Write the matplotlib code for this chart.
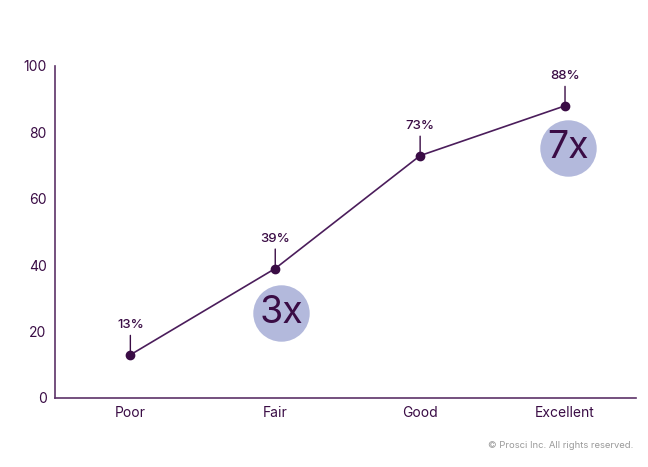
import matplotlib.pyplot as plt

categories = ["Poor", "Fair", "Good", "Excellent"]
values = [13, 39, 73, 88]
labels = ["13%", "39%", "73%", "88%"]
bubble_text = ["3x", "7x"]
bubble_x = [1.04, 3.02]
bubble_y = [25.6, 75.3]

dark = "#3a0c45"
line_c = "#4b1d5b"
spine_c = "#5c3268"
bubble_c = "#b3b9dc"

plt.rcParams["font.family"] = ["Inter", "DejaVu Sans"]

fig = plt.figure(figsize=(6.48, 4.67), dpi=100)
ax = fig.add_axes([0.0849, 0.1478, 0.8966, 0.7109])

x = list(range(len(categories)))
ax.plot(x, values, color=line_c, linewidth=1.2, marker="o", markersize=6,
        markerfacecolor=dark, markeredgecolor=dark, zorder=3)

for xi, v, lab in zip(x, values, labels):
    ax.annotate(lab, xy=(xi, v), xytext=(0, 17), textcoords="offset points",
                ha="center", va="bottom", fontsize=9.5, fontweight="medium",
                color=dark,
                arrowprops=dict(arrowstyle="-", color=dark, lw=1.0,
                                shrinkA=1, shrinkB=0))

ax.scatter(bubble_x, bubble_y, s=1650, color=bubble_c, zorder=2, linewidths=0)
for bx, by, bt in zip(bubble_x, bubble_y, bubble_text):
    ax.text(bx, by, bt, ha="center", va="center", fontsize=27, color=dark, zorder=4)

ax.set_xlim(-0.52, 3.49)
ax.set_ylim(0, 100)
ax.set_xticks(x)
ax.set_xticklabels(categories)
ax.set_yticks([0, 20, 40, 60, 80, 100])
ax.tick_params(length=0, labelsize=10, labelcolor=dark)
ax.tick_params(axis="x", pad=6)
ax.tick_params(axis="y", pad=6)
for s in ["top", "right"]:
    ax.spines[s].set_visible(False)
for s in ["left", "bottom"]:
    ax.spines[s].set_color(spine_c)
    ax.spines[s].set_linewidth(1.2)

fig.text(0.978, 0.045, "© Prosci Inc. All rights reserved.", ha="right",
         va="center", fontsize=6.8, color="#9a9a9a")

fig.savefig("out.png", dpi=100)
